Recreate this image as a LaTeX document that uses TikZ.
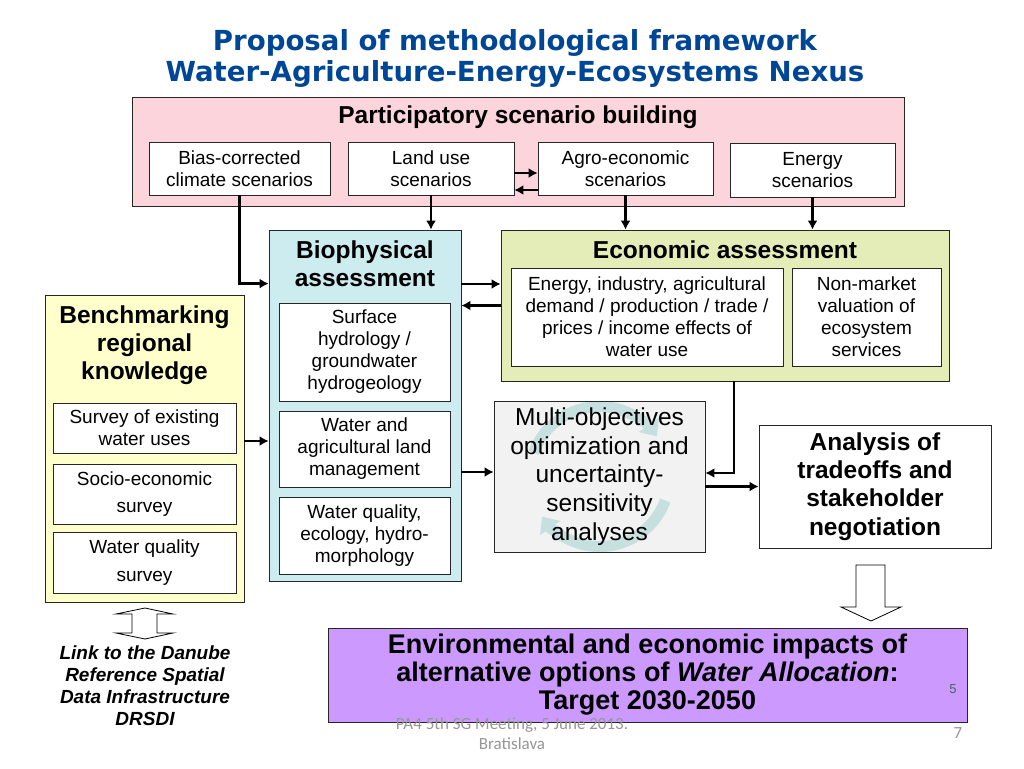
\documentclass[tikz,border=0pt]{standalone}
\usepackage{fontspec}
\setmainfont{Liberation Sans}
\newfontfamily\titlefont{DejaVu Sans}
\newfontfamily\footfont{Carlito}
\usepackage{xcolor}
\usetikzlibrary{arrows.meta}
\usetikzlibrary{calc}
\usetikzlibrary{positioning}

\definecolor{titleblue}{RGB}{0,70,150}
\definecolor{scenpink}{RGB}{251,213,219}
\definecolor{biocyan}{RGB}{204,236,239}
\definecolor{econgreen}{RGB}{228,236,184}
\definecolor{benchyellow}{RGB}{255,255,204}
\definecolor{multigray}{RGB}{242,242,242}
\definecolor{impactpurple}{RGB}{204,153,255}
\definecolor{cyclearrow}{RGB}{198,224,224}
\definecolor{footgray}{RGB}{150,150,150}
\definecolor{pagenum}{RGB}{70,100,100}

\tikzset{
  box/.style={draw=black!85, line width=0.8pt, align=center, inner sep=0pt},
  subbox/.style={box, fill=white, font=\fontsize{19}{22}\selectfont},
  boxhead/.style={align=center, font=\bfseries\fontsize{24.5}{28}\selectfont},
  arr/.style={line width=2.6pt, -{Latex[length=9pt,width=10pt]}},
  hollow/.style={draw=black, line width=0.8pt, fill=white},
}

\begin{document}
\begin{tikzpicture}[x=1pt, y=-1pt]
        \useasboundingbox[fill=white] (0,0) rectangle (1024,768);

        % title
        \node[align=center, text=titleblue, font=\titlefont\bfseries\fontsize{27.6}{31}\selectfont] (title) at (515,58.5)
            {Proposal of methodological framework\\Water-Agriculture-Energy-Ecosystems Nexus};

        % scenario building
        \node[box, fill=scenpink, minimum width=772pt, minimum height=109pt] (scen) at (518,151.5) {};
        \node[boxhead] (scentitle) at (518,117) {Participatory scenario building};
        \node[subbox, minimum width=181pt, minimum height=53pt] (climate) at (239.5,168.5) {Bias-corrected\\climate scenarios};
        \node[subbox, minimum width=166pt, minimum height=53pt] (landuse) at (431,168.5) {Land use\\scenarios};
        \node[subbox, minimum width=175pt, minimum height=53pt] (agro) at (625.5,168.5) {Agro-economic\\scenarios};
        \node[subbox, minimum width=165pt, minimum height=54pt] (energy) at (812.5,170) {Energy\\scenarios};

        % biophysical assessment
        \node[box, fill=biocyan, minimum width=192pt, minimum height=351pt] (bio) at (365,405.5) {};
        \node[boxhead] (biotitle) at (365,264) {Biophysical\\assessment};
        \node[subbox, minimum width=171pt, minimum height=98pt] (surface) at (364.5,352) {Surface\\hydrology /\\groundwater\\hydrogeology};
        \node[subbox, minimum width=171pt, minimum height=76pt] (landmgmt) at (364.5,449) {Water and\\agricultural land\\management};
        \node[subbox, minimum width=171pt, minimum height=77pt] (ecology) at (364.5,535.5) {Water quality,\\ecology, hydro-\\morphology};

        % economic assessment
        \node[box, fill=econgreen, minimum width=448pt, minimum height=151pt] (econ) at (725,305.5) {};
        \node[boxhead] (econtitle) at (725,250) {Economic assessment};
        \node[subbox, minimum width=272pt, minimum height=98pt] (demand) at (647,317) {Energy, industry, agricultural\\demand / production / trade /\\prices / income effects of\\water use};
        \node[subbox, minimum width=149pt, minimum height=98pt] (nonmarket) at (866.5,317) {Non-market\\valuation of\\ecosystem\\services};

        % benchmarking
        \node[box, fill=benchyellow, minimum width=199pt, minimum height=307pt] (bench) at (144.5,448.5) {};
        \node[boxhead] (benchtitle) at (144.5,345) {Benchmarking\\regional\\knowledge};
        \node[subbox, minimum width=183pt, minimum height=50pt] (survey) at (144.5,428) {Survey of existing\\water uses};
        \node[subbox, minimum width=183pt, minimum height=60pt, font=\fontsize{19}{27}\selectfont] (socio) at (144.5,494) {Socio-economic\\survey};
        \node[subbox, minimum width=183pt, minimum height=61pt, font=\fontsize{19}{28}\selectfont] (qualsurvey) at (144.5,562.5) {Water quality\\survey};

        % optimization
        \node[box, fill=multigray, minimum width=211pt, minimum height=151pt, font=\fontsize{24.5}{28.75}\selectfont,
            path picture={
              \draw[cyclearrow, line width=11pt, -{Triangle[length=14pt,width=24pt]}]
                ($(path picture bounding box.center)+(200:70)$) arc[start angle=200, end angle=325, radius=70];
              \draw[cyclearrow, line width=11pt, -{Triangle[length=14pt,width=24pt]}]
                ($(path picture bounding box.center)+(20:70)$) arc[start angle=20, end angle=145, radius=70];
            }] (multi) at (599.5,476.5)
            {Multi-objectives\\optimization and\\uncertainty-\\sensitivity\\analyses};

        % tradeoffs
        \node[box, fill=white, minimum width=232pt, minimum height=123pt, font=\bfseries\fontsize{24.5}{28.3}\selectfont] (tradeoff) at (875,486.5)
            {Analysis of\\tradeoffs and\\stakeholder\\negotiation};

        % impacts
        \node[box, fill=impactpurple, minimum width=639pt, minimum height=94pt, font=\bfseries\fontsize{27}{28}\selectfont] (impact) at (647.5,675)
            {Environmental and economic impacts of\\alternative options of \textit{Water Allocation}:\\Target 2030-2050};
        \node[text=pagenum, font=\fontsize{13}{15}\selectfont] (slidenum) at (953,689) {5};

        % DRSDI link
        \node[align=center, font=\bfseries\itshape\fontsize{19}{22}\selectfont] (drsdi) at (145,686)
            {Link to the Danube\\Reference Spatial\\Data Infrastructure\\DRSDI};

        % footer
        \node[align=center, text=footgray, font=\footfont\fontsize{17}{20}\selectfont] (footer) at (512,734)
            {PA4 5th SG Meeting, 5 June 2013.\\Bratislava};
        \node[text=footgray, font=\footfont\fontsize{17}{20}\selectfont] (pagenr) at (958,733) {7};

        % arrows
        \coordinate (bioin) at ($(bio.north west)+(0,54)$);
        \draw[arr] (climate.south) |- (bioin);
        \draw[arr] (landuse.south) -- (landuse.south |- bio.north);
        \draw[arr] (agro.south) -- (agro.south |- econ.north);
        \draw[arr] (energy.south) -- (energy.south |- econ.north);
        \draw[arr] ($(landuse.east)+(0,4.5)$) -- ($(agro.west)+(0,4.5)$);
        \draw[arr] ($(agro.west)+(0,21.5)$) -- ($(landuse.east)+(0,21.5)$);

        \coordinate (econin) at ($(econ.west)+(0,-21.5)$);
        \draw[arr] (econin -| bio.east) -- (econin);
        \draw[arr] (econ.west) -- (econ.west -| bio.east);

        \coordinate (benchout) at ($(bench.east)+(0,-7.5)$);
        \draw[arr] (benchout) -- (benchout -| bio.west);

        \coordinate (multiin) at ($(multi.west)+(0,-4.5)$);
        \draw[arr] (multiin -| bio.east) -- (multiin);

        \coordinate (econout) at ($(econ.south)+(9,0)$);
        \draw[arr] (econout) |- ($(multi.east)+(0,-3.5)$);
        \draw[arr] (multi.east |- tradeoff.west) -- (tradeoff.west);

        % hollow arrows
        \draw[hollow] (856,565) -- (885,565) -- (885,607) -- (901,607) -- (871,621) -- (841,607) -- (856,607) -- cycle;
        \draw[hollow] (145,608) -- (173,614) -- (157,614) -- (157,633) -- (173,633) -- (145,639)
            -- (116,633) -- (132,633) -- (132,614) -- (116,614) -- cycle;
\end{tikzpicture}
\end{document}
